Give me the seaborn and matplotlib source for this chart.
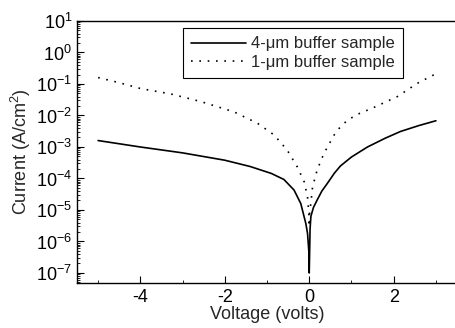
import numpy as np
import pandas as pd
import seaborn as sns
import matplotlib
matplotlib.use("Agg")
import matplotlib.pyplot as plt
from matplotlib.ticker import LogLocator, FixedLocator, MultipleLocator, NullFormatter

# 4-um buffer sample (solid)
v_4um = [-5.0, -4.0, -3.0, -2.0, -1.4, -0.9, -0.6, -0.36, -0.2, -0.08, -0.04, -0.01, 0.0,
         0.01, 0.02, 0.04, 0.1, 0.19, 0.3, 0.43, 0.6, 0.74, 1.0, 1.38, 1.8, 2.16, 2.6, 3.0]
i_4um = [1.6e-3, 1.0e-3, 6.5e-4, 3.8e-4, 2.4e-4, 1.45e-4, 9.3e-5, 4.3e-5, 1.6e-5, 3.7e-6, 1.8e-6, 5e-7, 1e-7,
         5e-7, 2.5e-6, 6.3e-6, 1.2e-5, 2.1e-5, 4.0e-5, 7.0e-5, 1.5e-4, 2.5e-4, 4.8e-4, 1.0e-3, 1.9e-3, 3.1e-3, 4.8e-3, 6.8e-3]

# 1-um buffer sample (dotted)
v_1um = [-5.0, -4.5, -4.0, -3.27, -2.56, -1.78, -1.22, -0.83, -0.52, -0.28, -0.12, -0.04, -0.01, 0.0,
         0.01, 0.04, 0.08, 0.19, 0.35, 0.59, 0.7, 0.9, 1.15, 1.49, 2.09, 2.56, 2.95]
i_1um = [0.16, 0.11, 7.2e-2, 4.8e-2, 2.75e-2, 1.3e-2, 5.6e-3, 2.4e-3, 7.9e-4, 2.3e-4, 7.9e-5, 2.6e-5, 8e-6, 3e-6,
         8e-6, 1.7e-5, 5.5e-5, 1.9e-4, 6.3e-4, 2.4e-3, 3.8e-3, 7.0e-3, 1.1e-2, 1.7e-2, 4.0e-2, 0.105, 0.195]

x_ticks = [-4, -2, 0, 2]
y_ticks = [1e-7, 1e-6, 1e-5, 1e-4, 1e-3, 1e-2, 1e-1, 1e0, 1e1]

lab4 = "4-\u03bcm buffer sample"
lab1 = "1-\u03bcm buffer sample"

df = pd.concat([
    pd.DataFrame({"V": v_4um, "I": i_4um, "sample": lab4}),
    pd.DataFrame({"V": v_1um, "I": i_1um, "sample": lab1}),
])

sns.set_style("ticks")
plt.rcParams["font.family"] = ["Liberation Sans", "DejaVu Sans"]
plt.rcParams["mathtext.default"] = "regular"
plt.rcParams["axes.unicode_minus"] = False

fig = plt.figure(figsize=(4.55, 3.28), dpi=100)
ax = fig.add_axes([77 / 455, 45 / 328, 380 / 455, 262 / 328])

sns.lineplot(data=df, x="V", y="I", hue="sample", style="sample", sort=False,
             palette={lab4: "black", lab1: "black"},
             dashes={lab4: "", lab1: (1, 4)}, linewidth=1.2, ax=ax, legend=True)

ax.set_yscale("log")
ax.set_xlim(-5.5, 3.5)
ax.set_ylim(4.8e-8, 10)
ax.xaxis.set_major_locator(FixedLocator(x_ticks))
ax.xaxis.set_minor_locator(MultipleLocator(1))
ax.yaxis.set_major_locator(FixedLocator(y_ticks))
ax.yaxis.set_minor_locator(LogLocator(base=10, subs=np.arange(2, 10), numticks=20))
ax.yaxis.set_minor_formatter(NullFormatter())

ax.tick_params(which="both", direction="in", labelsize=13, color="black", labelcolor="black")
ax.tick_params(which="major", length=5, width=0.8)
ax.tick_params(which="minor", length=2.5, width=0.6)
ax.tick_params(axis="x", pad=4)

for s in ax.spines.values():
    s.set_color("black")
    s.set_linewidth(1.0)

ax.set_xlabel("Voltage (volts)", fontsize=13, labelpad=0)
ax.set_ylabel("Current (A/cm$^2$)", fontsize=13, labelpad=2)

# legend box placed like the original
handles, labels = ax.get_legend_handles_labels()
leg = ax.legend(handles, labels, loc="upper left", bbox_to_anchor=(0.279, 0.973),
                borderaxespad=0, fontsize=12, frameon=True, fancybox=False,
                edgecolor="black", framealpha=1, handlelength=3.3, handletextpad=0.3,
                borderpad=0.5, labelspacing=0.2)
leg.get_frame().set_linewidth(0.8)

fig.savefig("out.png", dpi=100)
